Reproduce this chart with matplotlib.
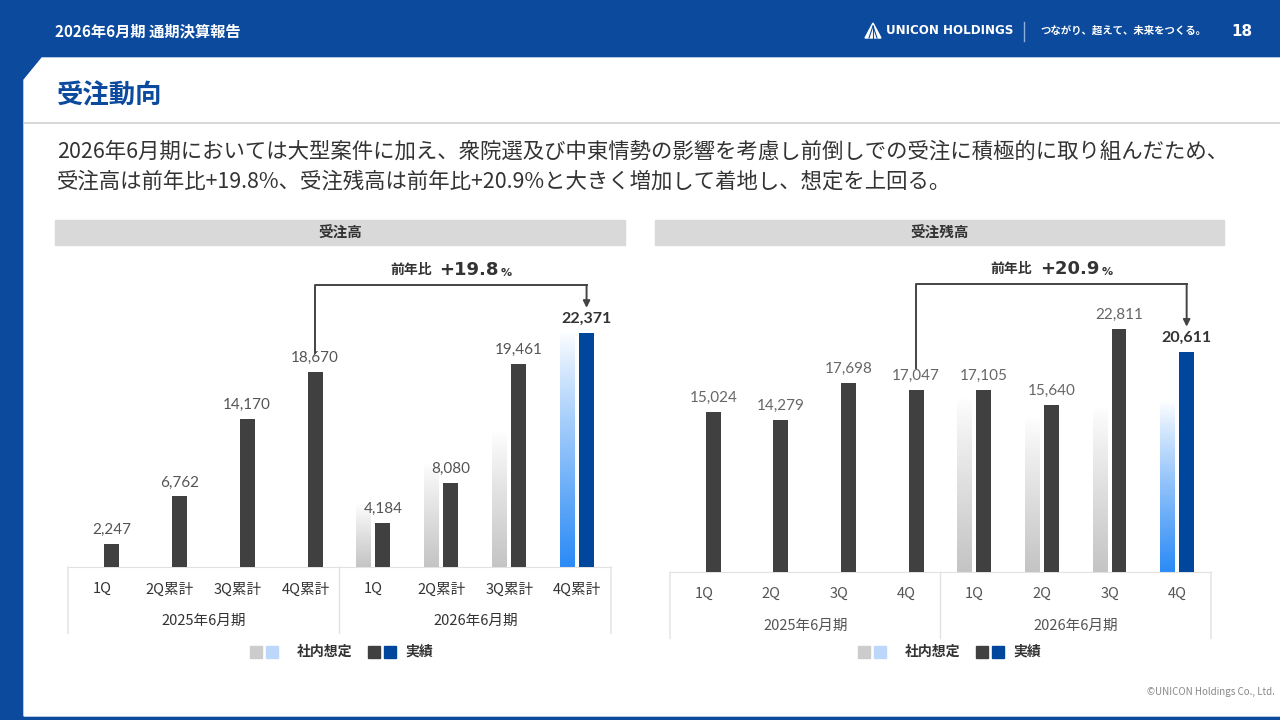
import numpy as np
import matplotlib
matplotlib.use('Agg')
import matplotlib.pyplot as plt
from matplotlib.colors import to_rgb
from matplotlib.patches import Polygon, Rectangle

plt.rcParams['font.family'] = ['Noto Sans CJK JP', 'DejaVu Sans']

# ── Data ──────────────────────────────────────────────────────────
order_cats   = ['1Q', '2Q累計', '3Q累計', '4Q累計', '1Q', '2Q累計', '3Q累計', '4Q累計']
backlog_cats = ['1Q', '2Q', '3Q', '4Q', '1Q', '2Q', '3Q', '4Q']
periods      = ['2025年6月期', '2026年6月期']

order_actual   = [2247, 6762, 14170, 18670, 4184, 8080, 19461, 22371]
order_plan     = [6000, 10000, 13000, 22500]      # 2026年6月期 社内想定
backlog_actual = [15024, 14279, 17698, 17047, 17105, 15640, 22811, 20611]
backlog_plan   = [16500, 14500, 15500, 16000]

order_yoy   = '+19.8'
backlog_yoy = '+20.9'

# ── Colours ───────────────────────────────────────────────────────
C_NAVY = '#0b4a9c'; C_DARK = '#404040'; C_BLUE = '#00469c'
C_GRAY = '#c4c4c4'; C_LBLUE = '#2a8af6'; C_TXT = '#333333'
C_LINE = '#e2e2e2'

fig = plt.figure(figsize=(12.8, 7.2), dpi=100, facecolor='white')
renderer = fig.canvas.get_renderer()

# background / page furniture in pixel coordinates
bg = fig.add_axes([0, 0, 1, 1], zorder=0)
bg.set_xlim(0, 1280); bg.set_ylim(720, 0); bg.axis('off')
bg.add_patch(Rectangle((0, 0), 1280, 720, color=C_NAVY))
bg.add_patch(Polygon([(24, 80), (42, 58), (1280, 58), (1280, 716), (24, 716)],
                     closed=True, color='white'))
bg.plot([24, 1280], [123, 123], color='#d0d0d0', lw=1.2)

bg.text(55, 31, '2026年6月期 通期決算報告', color='white', fontsize=11,
        fontweight='bold', va='center')
# small logo mark (shape)
bg.add_patch(Polygon([(865, 38), (873, 23), (881, 38)], closed=True,
                     color='white'))
for xo in [869, 873, 877]:
    bg.plot([873, xo], [26, 38], color=C_NAVY, lw=0.8)
bg.text(886, 31, 'UNICON HOLDINGS', color='white', fontsize=8.6,
        fontweight='bold', va='center', family=['DejaVu Sans'])
bg.plot([1024, 1024], [22, 41], color='#8fb0dd', lw=1)
bg.text(1040, 31, 'つながり、超えて、未来をつくる。', color='white', fontsize=7.5,
        fontweight='bold', va='center')
bg.text(1242, 31, '18', color='white', fontsize=11, fontweight='bold',
        va='center', ha='center', family=['DejaVu Sans'])

bg.text(57, 96, '受注動向', color=C_NAVY, fontsize=19, fontweight='bold',
        va='center')
bg.text(57, 152, '2026年6月期においては大型案件に加え、衆院選及び中東情勢の影響を考慮し'
        '前倒しでの受注に積極的に取り組んだため、', color=C_TXT, fontsize=15.4,
        va='center')
bg.text(57, 182, '受注高は前年比+19.8%、受注残高は前年比+20.9%と大きく増加して着地し、'
        '想定を上回る。', color=C_TXT, fontsize=15.4, va='center')
bg.text(1275, 692, '©UNICON Holdings Co., Ltd.', color='#888888', fontsize=7,
        ha='right', va='center')

# chart title strips
for x0, x1, title in [(55, 625, '受注高'), (655, 1224, '受注残高')]:
    bg.add_patch(Rectangle((x0, 220), x1 - x0, 25, color='#d9d9d9'))
    bg.text((x0 + x1) / 2, 232.5, title, color=C_TXT, fontsize=10.5,
            fontweight='bold', ha='center', va='center')


def grad_bar(ax, x, h, w, color):
    b = ax.bar(x, h, w, color='none', lw=0, zorder=2)[0]
    rgba = np.ones((256, 1, 4))
    rgba[..., :3] = to_rgb(color)
    rgba[:, 0, 3] = np.linspace(0, 1, 256) ** 0.9
    im = ax.imshow(rgba, extent=(x - w / 2, x + w / 2, 0, h), aspect='auto',
                   origin='upper', zorder=1)
    im.set_clip_path(b)


def chart(rect, cats, actual, plan, num_color, yoy, yoy_levels, lab_color):
    ax = fig.add_axes(rect, zorder=2)
    ax.patch.set_alpha(0)
    n = len(actual)
    xs = np.arange(n)
    w = 0.22
    cols = [C_DARK] * (n - 1) + [C_BLUE]
    ax.bar(xs + 0.14, actual, w, color=cols, zorder=3)
    pcols = [C_GRAY] * (len(plan) - 1) + [C_LBLUE]
    for i, (v, c) in enumerate(zip(plan, pcols)):
        grad_bar(ax, xs[n - len(plan) + i] - 0.14, v, w, c)
    for i, v in enumerate(actual):
        last = i == n - 1
        ax.annotate(f'{v:,}', (xs[i] + 0.14, v), xytext=(0, 5),
                    textcoords='offset points', ha='center', va='bottom',
                    fontsize=11.5 if last else 11,
                    fontweight='bold' if last else 'normal',
                    color=C_TXT if last else num_color,
                    family=['Lato', 'DejaVu Sans'])
    ax.set_xlim(-0.5, n - 0.5)
    ax.set_ylim(0, 30000)
    ax.set_xticks(xs)
    ax.set_xticklabels(cats, fontsize=10.5, color=lab_color)
    ax.tick_params(axis='x', length=0, pad=11)
    ax.set_yticks([])
    for s in ['top', 'left', 'right']:
        ax.spines[s].set_visible(False)
    ax.spines['bottom'].set_color(C_LINE)
    for gi, p in enumerate(periods):
        ax.annotate(p, (gi * 4 + 1.5, 0), xytext=(0, -39),
                    textcoords='offset points', ha='center', va='center',
                    fontsize=10.5, color=lab_color)
    # table dividers
    for xv in [-0.5, 3.5, n - 0.5]:
        ax.annotate('', (xv, 0), xytext=(0, -48), textcoords='offset points',
                    xycoords='data',
                    arrowprops=dict(arrowstyle='-', color=C_LINE, lw=1,
                                    shrinkA=0, shrinkB=0))
    # year-on-year bracket
    y_start, y_top, y_tip = yoy_levels
    x_a, x_b = xs[3] + 0.14, xs[-1] + 0.14
    ax.plot([x_a, x_a, x_b], [y_start, y_top, y_top], color='#444444',
            lw=1.4, clip_on=False, zorder=4)
    ax.annotate('', (x_b, y_tip), xytext=(x_b, y_top),
                arrowprops=dict(arrowstyle='-|>', color='#444444', lw=1.4,
                                mutation_scale=10, shrinkA=0, shrinkB=0),
                annotation_clip=False, zorder=4)
    xm = (x_a + x_b) / 2
    ty = y_top + 1400
    ax.text(xm - 0.28, ty, '前年比', ha='right', va='center', fontsize=10,
            fontweight='bold', color=C_TXT)
    t = ax.text(xm - 0.17, ty, yoy, ha='left', va='center', fontsize=13,
                fontweight='bold', color=C_TXT, family=['DejaVu Sans'])
    bb = t.get_window_extent(renderer)
    fig.text(bb.x1 + 2, bb.y0 + 1, '%', ha='left', va='bottom', fontsize=8,
             fontweight='bold', color=C_TXT, family=['DejaVu Sans'],
             transform=None)
    return ax


chart([68 / 1280, (720 - 567) / 720, 543 / 1280, 313.5 / 720],
      order_cats, order_actual, order_plan, '#555555',
      order_yoy, (20500, 27000, 24800), C_TXT)
chart([670 / 1280, (720 - 572) / 720, 541 / 1280, 320 / 720],
      backlog_cats, backlog_actual, backlog_plan, '#666666',
      backlog_yoy, (19100, 27000, 23000), '#555555')

# legends
for cx in [256, 864]:
    bg.add_patch(Rectangle((cx - 6, 646), 12, 12, color='#cccccc'))
    bg.add_patch(Rectangle((cx + 10, 646), 12, 12, color='#bdd7fb'))
    bg.text(cx + 41, 652, '社内想定', fontsize=10, color=C_TXT,
            va='center', fontweight='bold')
    bg.add_patch(Rectangle((cx + 112, 646), 12, 12, color=C_DARK))
    bg.add_patch(Rectangle((cx + 128, 646), 12, 12, color=C_BLUE))
    bg.text(cx + 149, 652, '実績', fontsize=10, color=C_TXT, va='center',
            fontweight='bold')

fig.savefig('out.png', dpi=100, facecolor='white')
